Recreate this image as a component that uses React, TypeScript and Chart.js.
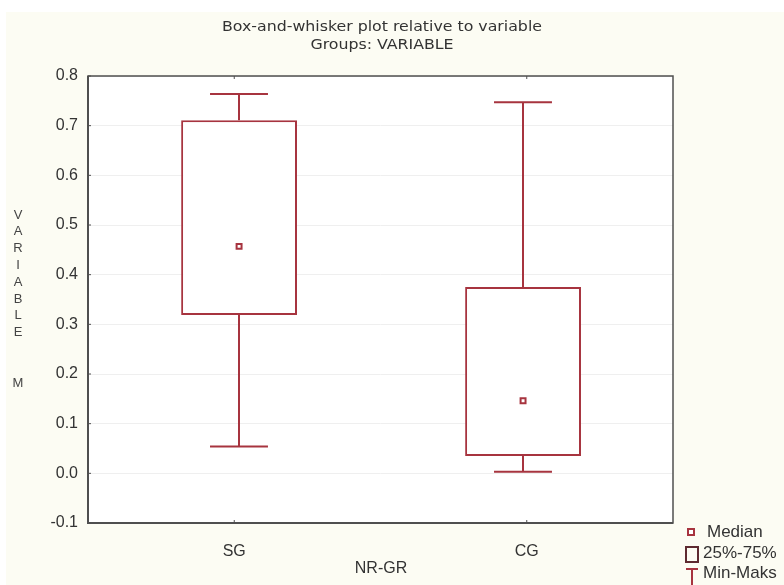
import React, { useEffect, useRef } from "react";
import { Chart, registerables } from "chart.js";

Chart.register(...registerables);

const categories = ["SG", "CG"];
const minValues = [0.054, 0.003];
const q1Values = [0.319, 0.035];
const medianValues = [0.457, 0.146];
const q3Values = [0.711, 0.375];
const maxValues = [0.764, 0.747];
const yTicks = [-0.1, 0, 0.1, 0.2, 0.3, 0.4, 0.5, 0.6, 0.7, 0.8];
const titleLines = ["Box-and-whisker plot relative to variable", "Groups: VARIABLE"];
const yTitleLetters = ["V", "A", "R", "I", "A", "B", "L", "E", "", "", "M"];
const xTitle = "NR-GR";
const legendLabels = ["Median", "25%-75%", "Min-Maks"];

const RED = "#a7343f";
const CREAM = "#fcfcf3";
const AXIS = "#4f4f4f";
const TEXT = "#333333";

function drawStretched(ctx: any, text: string, cx: number, cy: number, sx: number) {
  ctx.save();
  ctx.translate(cx, cy);
  ctx.scale(sx, 1);
  ctx.fillText(text, 0, 0);
  ctx.restore();
}

const decorPlugin = {
  id: "decor",
  beforeDraw(chart: any) {
    const { ctx, width, height, chartArea } = chart;
    ctx.save();
    ctx.fillStyle = "#ffffff";
    ctx.fillRect(0, 0, width, height);
    ctx.fillStyle = CREAM;
    ctx.fillRect(6, 12, width - 6, height - 12);
    ctx.fillStyle = "#ffffff";
    ctx.fillRect(chartArea.left, chartArea.top, chartArea.right - chartArea.left, chartArea.bottom - chartArea.top);
    ctx.restore();
  },
  afterDatasetsDraw(chart: any) {
    const { ctx, chartArea, scales } = chart;
    const xs = scales.x;
    const xb = scales.x2;
    const ys = scales.y;
    ctx.save();
    // whiskers
    ctx.strokeStyle = RED;
    ctx.lineWidth = 2;
    const capHalf = (xb.getPixelForValue(1) - xb.getPixelForValue(0)) * 0.102;
    categories.forEach((_, i) => {
      const x = Math.round(xb.getPixelForValue(i));
      const yMin = ys.getPixelForValue(minValues[i]);
      const yMax = ys.getPixelForValue(maxValues[i]);
      const yQ1 = ys.getPixelForValue(q1Values[i]);
      const yQ3 = ys.getPixelForValue(q3Values[i]);
      ctx.beginPath();
      ctx.moveTo(x, yQ3);
      ctx.lineTo(x, yMax);
      ctx.moveTo(x - capHalf, yMax);
      ctx.lineTo(x + capHalf, yMax);
      ctx.moveTo(x, yQ1);
      ctx.lineTo(x, yMin);
      ctx.moveTo(x - capHalf, yMin);
      ctx.lineTo(x + capHalf, yMin);
      ctx.stroke();
    });
    // frame
    ctx.strokeStyle = AXIS;
    ctx.lineWidth = 1.5;
    ctx.strokeRect(chartArea.left, chartArea.top, chartArea.right - chartArea.left, chartArea.bottom - chartArea.top);
    ctx.lineWidth = 2;
    ctx.beginPath();
    ctx.moveTo(chartArea.left, chartArea.top);
    ctx.lineTo(chartArea.left, chartArea.bottom);
    ctx.lineTo(chartArea.right, chartArea.bottom);
    ctx.stroke();
    // small ticks
    ctx.lineWidth = 1;
    categories.forEach((_, i) => {
      const x = xs.getPixelForValue(i);
      ctx.beginPath();
      ctx.moveTo(x, chartArea.top);
      ctx.lineTo(x, chartArea.top + 3);
      ctx.moveTo(x, chartArea.bottom);
      ctx.lineTo(x, chartArea.bottom - 3);
      ctx.stroke();
    });
    yTicks.forEach((v) => {
      const y = ys.getPixelForValue(v);
      ctx.beginPath();
      ctx.moveTo(chartArea.left, y);
      ctx.lineTo(chartArea.left + 3, y);
      ctx.stroke();
    });
    ctx.restore();
  },
  afterDraw(chart: any) {
    const { ctx } = chart;
    ctx.save();
    // title
    ctx.fillStyle = TEXT;
    ctx.font = "14px 'DejaVu Sans Condensed', 'DejaVu Sans'";
    ctx.textAlign = "center";
    ctx.textBaseline = "middle";
    const w0 = ctx.measureText(titleLines[0]).width;
    const sx = 320 / w0;
    drawStretched(ctx, titleLines[0], 382, 27, sx);
    drawStretched(ctx, titleLines[1], 382, 45, sx);
    // x title
    ctx.font = "16px 'Liberation Sans', Arial";
    ctx.fillText(xTitle, 381, 569);
    // y title
    ctx.font = "13px 'Liberation Sans', Arial";
    ctx.fillStyle = "#444444";
    yTitleLetters.forEach((ch, i) => {
      if (ch) ctx.fillText(ch, 18, 215 + i * 16.8);
    });
    // legend
    ctx.strokeStyle = RED;
    ctx.lineWidth = 2;
    ctx.fillStyle = "#ffffff";
    ctx.fillRect(688, 529, 6, 6);
    ctx.strokeRect(688, 529, 6, 6);
    ctx.strokeStyle = "#5e2a30";
    ctx.strokeRect(686, 547, 12, 15);
    ctx.strokeStyle = RED;
    ctx.beginPath();
    ctx.moveTo(686, 569);
    ctx.lineTo(698, 569);
    ctx.moveTo(692, 569);
    ctx.lineTo(692, 586);
    ctx.stroke();
    ctx.font = "17px 'Liberation Sans', Arial";
    ctx.textAlign = "left";
    ctx.fillStyle = TEXT;
    ctx.fillText(legendLabels[0], 707, 532);
    ctx.fillText(legendLabels[1], 703, 553);
    ctx.fillText(legendLabels[2], 703, 573);
    ctx.restore();
  },
};

export default function App() {
  const ref = useRef<HTMLCanvasElement | null>(null);
  useEffect(() => {
    if (!ref.current) return;
    const chart = new Chart(ref.current, {
      type: "bar",
      data: {
        labels: categories,
        datasets: [
          {
            type: "bar",
            xAxisID: "x2",
            data: categories.map((_, i) => ({ x: i, y: [q1Values[i], q3Values[i]] })) as any,
            backgroundColor: "#ffffff",
            borderColor: RED,
            borderWidth: 2,
            borderSkipped: false,
            barPercentage: 0.408,
            categoryPercentage: 1,
            order: 2,
          },
          {
            type: "line",
            xAxisID: "x2",
            data: categories.map((_, i) => ({ x: i, y: medianValues[i] })),
            showLine: false,
            pointStyle: "rect",
            pointRadius: 3.5,
            pointBorderWidth: 2,
            pointBackgroundColor: "#ffffff",
            pointBorderColor: RED,
            order: 1,
          } as any,
        ],
      },
      options: {
        responsive: false,
        animation: false,
        layout: { padding: { left: 0, top: 76, right: 111, bottom: 0 } },
        plugins: { legend: { display: false }, tooltip: { enabled: false }, title: { display: false } },
        scales: {
          x: {
            type: "category",
            offset: true,
            grid: { display: false, drawTicks: false },
            border: { display: false },
            ticks: { color: TEXT, font: { family: "'Liberation Sans', Arial", size: 16 }, padding: 19 },
            afterFit: (s: any) => {
              s.height = 62;
            },
          },
          x2: {
            type: "linear",
            display: false,
            min: -0.532,
            max: 1.528,
            offset: false,
            afterBuildTicks: (s: any) => {
              s.ticks = categories.map((_, i) => ({ value: i }));
            },
          },
          y: {
            min: -0.1,
            max: 0.8,
            grid: { color: "#efefef", drawTicks: false },
            border: { display: false },
            afterBuildTicks: (s: any) => {
              s.ticks = yTicks.map((v) => ({ value: v }));
            },
            ticks: {
              color: TEXT,
              font: { family: "'Liberation Sans', Arial", size: 16 },
              padding: 10,
              callback: (v: any) => Number(v).toFixed(1),
            },
            afterFit: (s: any) => {
              s.width = 88;
            },
          },
        },
      },
      plugins: [decorPlugin],
    });
    return () => chart.destroy();
  }, []);
  return (
    <div style={{ position: "fixed", left: 0, top: 0, width: 784, height: 585 }}>
      <canvas ref={ref} width={784} height={585} style={{ width: 784, height: 585 }} />
    </div>
  );
}
